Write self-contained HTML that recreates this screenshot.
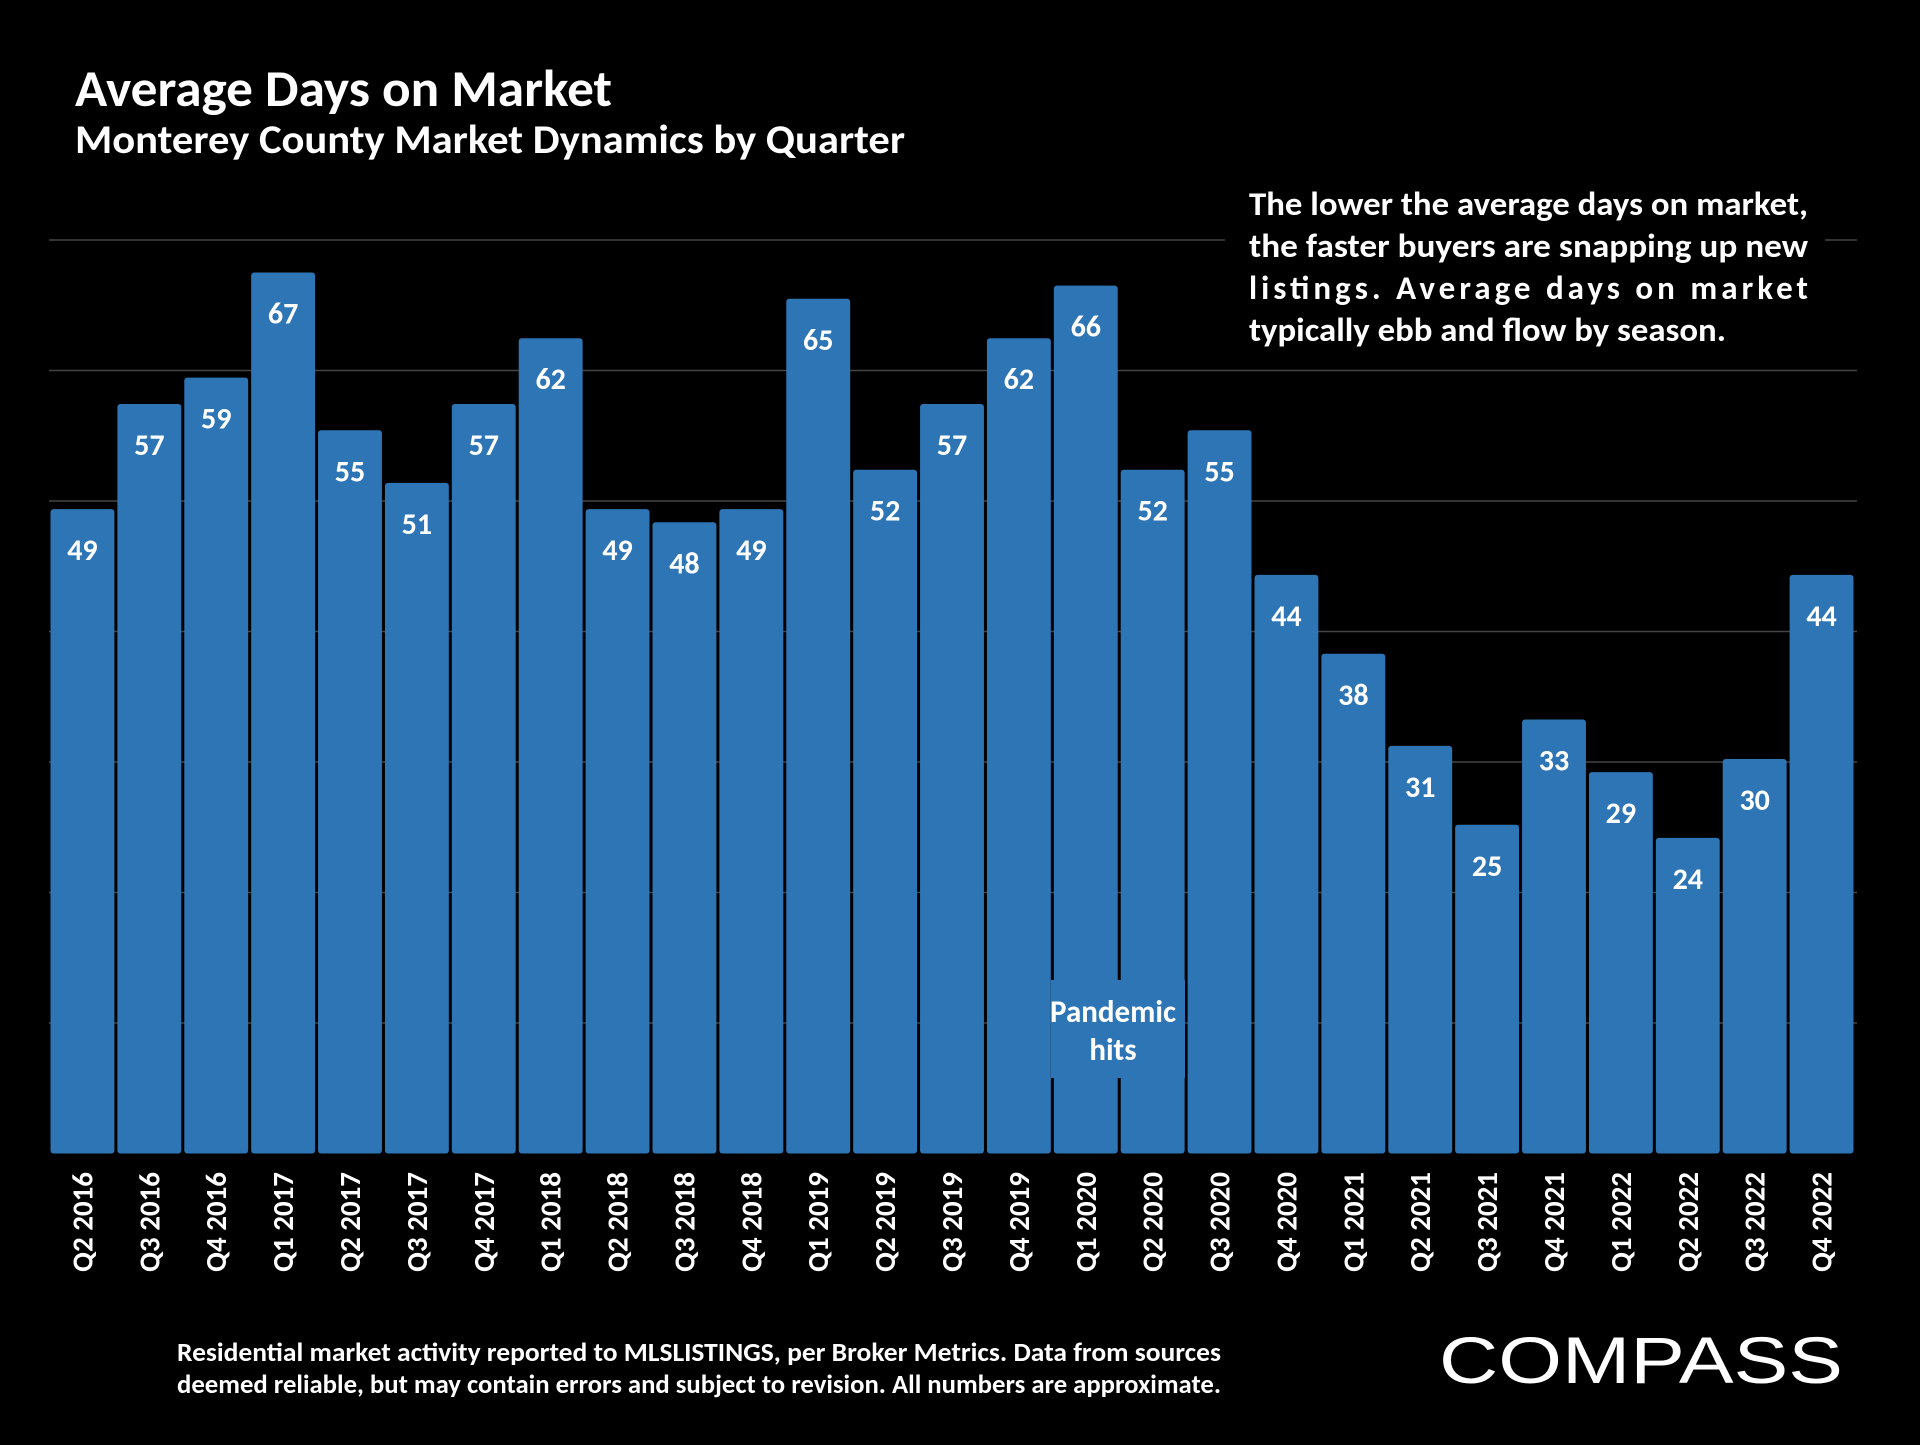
<!DOCTYPE html>
<html><head><meta charset="utf-8"><style>
body{margin:0;background:#000;width:1920px;height:1440px;overflow:hidden;font-family:"Liberation Sans",sans-serif}
svg text{font-family:"Carlito","Liberation Sans",sans-serif;font-weight:bold;fill:#fff}
</style></head><body>
<svg id="c" width="1920" height="1440">
<text x="75" y="106" font-size="52" textLength="537" lengthAdjust="spacingAndGlyphs">Average Days on Market</text>
<text x="75" y="153" font-size="40" textLength="830" lengthAdjust="spacingAndGlyphs">Monterey County Market Dynamics by Quarter</text>
<g id="grid"></g>
<g id="bars"></g>
<rect x="1225" y="180" width="600" height="175" fill="#000"/>
<g font-size="33">
<text x="1249" y="215" textLength="559" lengthAdjust="spacingAndGlyphs">The lower the average days on market,</text>
<text x="1249" y="257" textLength="559" lengthAdjust="spacingAndGlyphs">the faster buyers are snapping up new</text>
<text x="1249" y="299" textLength="559">listings.  Average  days  on  market</text>
<text x="1249" y="341" textLength="477" lengthAdjust="spacingAndGlyphs">typically ebb and flow by season.</text>
</g>
<rect x="1051" y="980" width="134" height="98" fill="#2E75B6"/>
<g font-size="31" text-anchor="middle">
<text x="1113" y="1022">Pandemic</text><text x="1113" y="1060">hits</text></g>
<g font-size="26" text-anchor="middle">
<text x="699" y="1361" textLength="1044" lengthAdjust="spacingAndGlyphs">Residential market activity reported to MLSLISTINGS, per Broker Metrics. Data from sources</text>
<text x="699" y="1393" textLength="1044" lengthAdjust="spacingAndGlyphs">deemed reliable, but may contain errors and subject to revision. All numbers are approximate.</text></g>
<text x="1439" y="1383" font-size="66" textLength="404" lengthAdjust="spacingAndGlyphs" style="font-weight:normal;font-family:'Liberation Sans',sans-serif">COMPASS</text>
</svg>
<script>
const categories=["Q2 2016","Q3 2016","Q4 2016","Q1 2017","Q2 2017","Q3 2017","Q4 2017","Q1 2018","Q2 2018","Q3 2018","Q4 2018","Q1 2019","Q2 2019","Q3 2019","Q4 2019","Q1 2020","Q2 2020","Q3 2020","Q4 2020","Q1 2021","Q2 2021","Q3 2021","Q4 2021","Q1 2022","Q2 2022","Q3 2022","Q4 2022"];
const values=[49,57,59,67,55,51,57,62,49,48,49,65,52,57,62,66,52,55,44,38,31,25,33,29,24,30,44];
const gridTicks=[1,2,3,4,5,6,7];
const NS="http://www.w3.org/2000/svg";
const x0=49,x1=1855,y0=1153.5,yMax=233,vMax=70;
const yS=v=>y0-(y0-yMax)*v/vMax;
const gS=k=>y0-(y0-240)*k/7;
const pitch=(x1-x0)/categories.length;
const xS=i=>x0+i*pitch;
const grid=document.getElementById('grid'),bars=document.getElementById('bars');
gridTicks.forEach(t=>{const l=document.createElementNS(NS,'line');
l.setAttribute('x1',x0);l.setAttribute('x2',x1+2);l.setAttribute('y1',gS(t));l.setAttribute('y2',gS(t));
l.setAttribute('stroke','#444');l.setAttribute('stroke-width','1.5');


grid.appendChild(l);});
values.forEach((v,i)=>{
const r=document.createElementNS(NS,'rect');
r.setAttribute('x',xS(i)+1.5);r.setAttribute('width',pitch-3);r.setAttribute('y',yS(v));r.setAttribute('height',y0-yS(v));
r.setAttribute('fill','#2E75B6');r.setAttribute('rx','3');


bars.appendChild(r);
const t=document.createElementNS(NS,'text');
t.setAttribute('x',xS(i)+pitch/2);t.setAttribute('y',yS(v)+51);t.setAttribute('text-anchor','middle');t.setAttribute('font-size','30');
t.textContent=v;


bars.appendChild(t);
const c=document.createElementNS(NS,'text');
const cx=xS(i)+pitch/2+10,cy=1172;
c.setAttribute('x',cx);c.setAttribute('y',cy);c.setAttribute('text-anchor','end');c.setAttribute('font-size','29');
c.setAttribute('transform','rotate(-90 '+cx+' '+cy+')');
c.textContent=categories[i];


bars.appendChild(c);
});
</script>
</body></html>
